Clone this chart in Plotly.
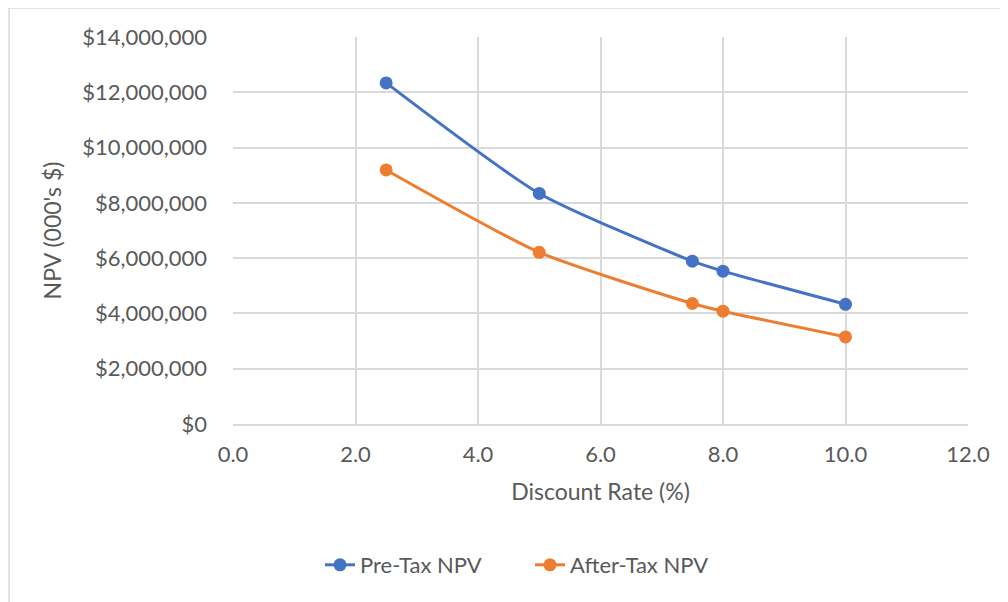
import plotly.graph_objects as go

discount_rate = [2.5, 5.0, 7.5, 8.0, 10.0]
pre_tax_npv = [12340000, 8340000, 5890000, 5530000, 4330000]
after_tax_npv = [9190000, 6210000, 4360000, 4080000, 3150000]

FONT = "Lato, 'Open Sans', sans-serif"
GRID = "#d9d9d9"
TXT = "#595959"

# page body has an 8px margin; work in page coordinates minus 8
OFF = 8
W, H = 1008 - OFF, 602 - OFF
L, R, T, B = 233 - OFF, 968 - OFF, 37 - OFF, 424 - OFF
pw, ph = R - L, B - T

fig = go.Figure()
fig.add_trace(go.Scatter(x=discount_rate, y=pre_tax_npv, name="Pre-Tax NPV",
                         mode="lines+markers", line=dict(color="#4472c4", width=3, shape="spline", smoothing=0.6),
                         marker=dict(size=13, color="#4472c4")))
fig.add_trace(go.Scatter(x=discount_rate, y=after_tax_npv, name="After-Tax NPV",
                         mode="lines+markers", line=dict(color="#ed7d31", width=3, shape="spline", smoothing=0.6),
                         marker=dict(size=13, color="#ed7d31")))

fig.update_layout(
    width=W, height=H,
    margin=dict(l=L, r=W - R, t=T, b=H - B),
    paper_bgcolor="white", plot_bgcolor="white",
    font=dict(family=FONT, color=TXT, size=22),
    xaxis=dict(range=[0, 12], dtick=2, tickformat=".1f", showgrid=True, gridcolor=GRID, gridwidth=1.5,
               zeroline=False, showline=True, linecolor=GRID, linewidth=1.5, ticks="",
               ticklabelstandoff=10, tickfont=dict(size=22, color=TXT),
               title=dict(text="Discount Rate (%)", font=dict(size=23, color=TXT), standoff=18)),
    yaxis=dict(range=[0, 14000000], dtick=2000000, tickprefix="$", tickformat=",", showgrid=True,
               gridcolor=GRID, gridwidth=1.5, zeroline=False, showline=False, ticks="",
               ticklabelstandoff=25, tickfont=dict(size=22, color=TXT),
               title=dict(text="NPV (000's $)", font=dict(size=23, color=TXT), standoff=14)),
    legend=dict(orientation="h", x=(530 - 233) / pw, xanchor="center", y=(424 - 565) / ph, yanchor="middle",
                font=dict(size=22, color=TXT), entrywidth=165, entrywidthmode="pixels"),
    showlegend=True,
    shapes=[dict(type="rect", xref="paper", yref="paper",
                 x0=(9 - 233) / pw, x1=(1040 - 233) / pw, y0=(424 - 640) / ph, y1=(424 - 8) / ph,
                 line=dict(color=GRID, width=1.5), fillcolor="rgba(0,0,0,0)", layer="below")],
)

fig.write_html("out.html")
